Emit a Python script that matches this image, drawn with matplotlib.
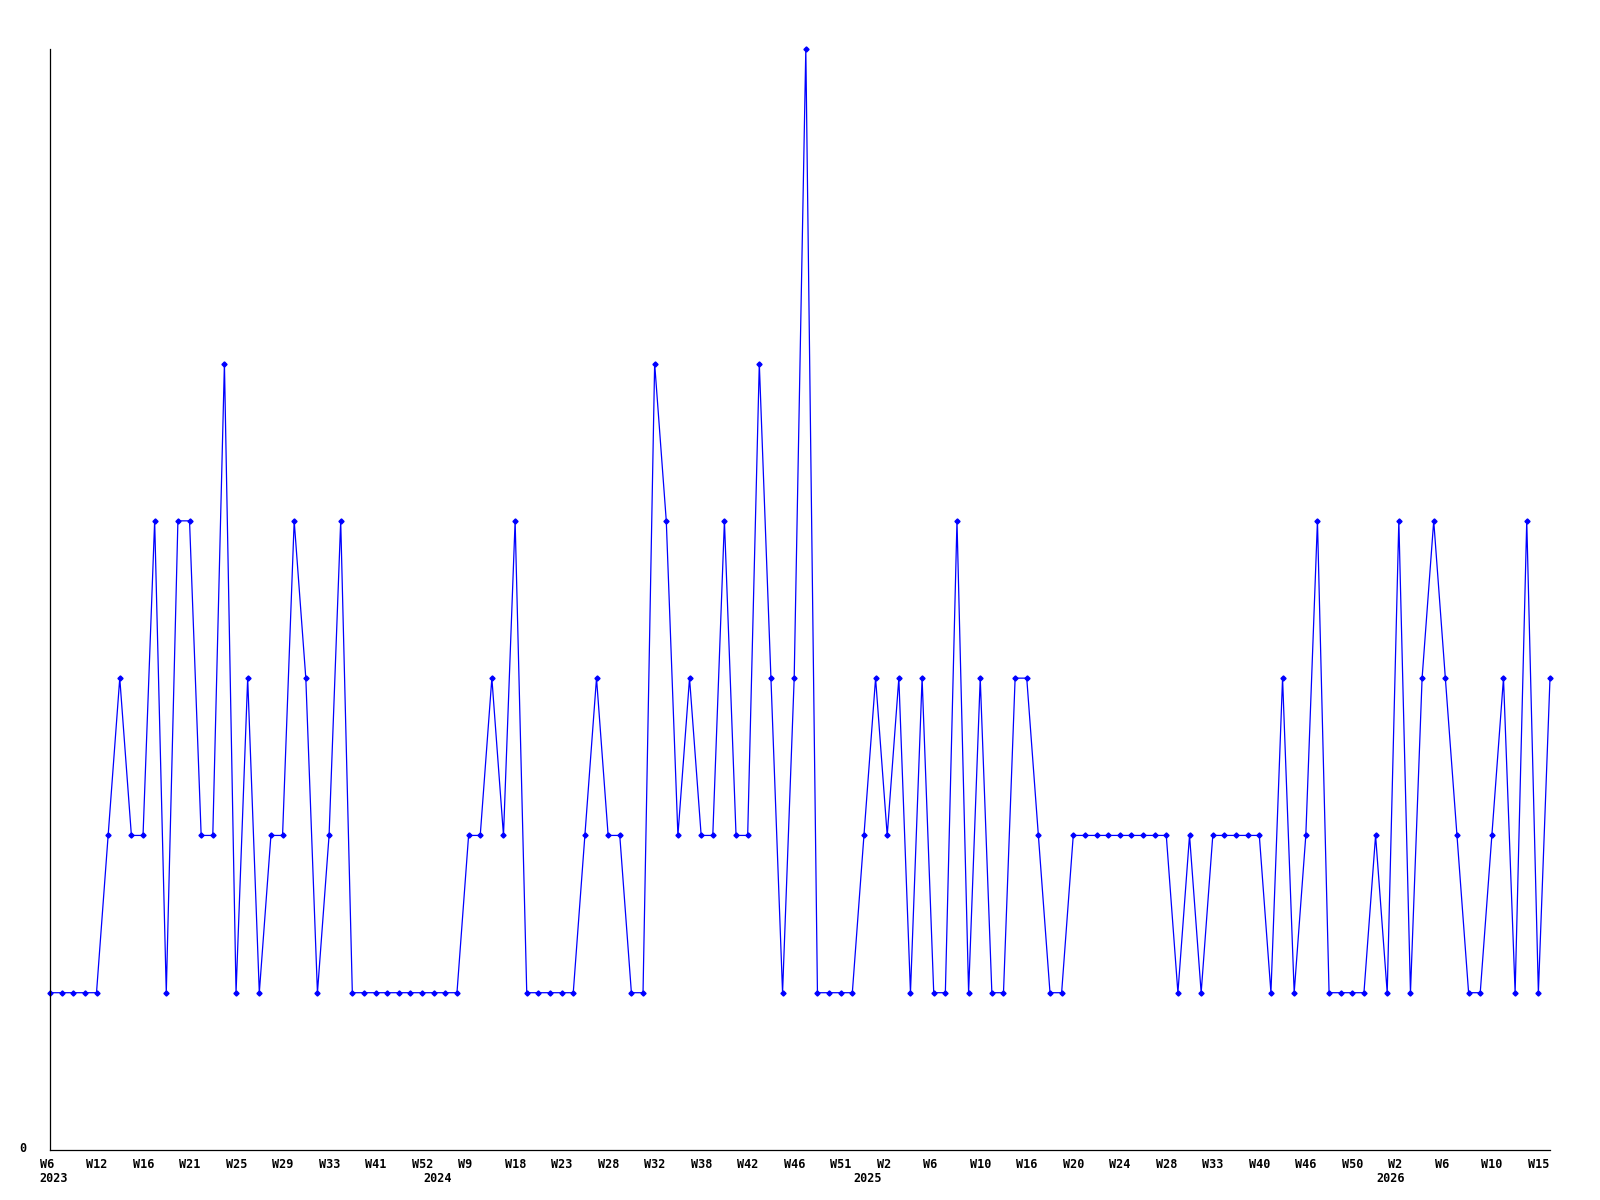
import matplotlib
matplotlib.use("Agg")
import matplotlib.pyplot as plt

values = [1, 1, 1, 1, 1, 2, 3, 2, 2, 4,
          1, 4, 4, 2, 2, 5, 1, 3, 1, 2,
          2, 4, 3, 1, 2, 4, 1, 1, 1, 1,
          1, 1, 1, 1, 1, 1, 2, 2, 3, 2,
          4, 1, 1, 1, 1, 1, 2, 3, 2, 2,
          1, 1, 5, 4, 2, 3, 2, 2, 4, 2,
          2, 5, 3, 1, 3, 7, 1, 1, 1, 1,
          2, 3, 2, 3, 1, 3, 1, 1, 4, 1,
          3, 1, 1, 3, 3, 2, 1, 1, 2, 2,
          2, 2, 2, 2, 2, 2, 2, 1, 2, 1,
          2, 2, 2, 2, 2, 1, 3, 1, 2, 4,
          1, 1, 1, 1, 2, 1, 4, 1, 3, 4,
          3, 2, 1, 1, 2, 3, 1, 4, 1, 3]

week_labels = ["W6", "W12", "W16", "W21", "W25", "W29", "W33", "W41", "W52",
               "W9", "W18", "W23", "W28", "W32", "W38", "W42", "W46", "W51",
               "W2", "W6", "W10", "W16", "W20", "W24", "W28", "W33", "W40",
               "W46", "W50", "W2", "W6", "W10", "W15"]
week_label_idx = list(range(0, 4 * len(week_labels), 4))

year_labels = ["2023", "2024", "2025", "2026"]
year_label_idx = [0, 33, 70, 115]

fig = plt.figure(figsize=(16, 12), dpi=100)
ax = fig.add_axes([50 / 1600, 1 - 1150 / 1200, 1500 / 1600, 1101 / 1200])

x = list(range(len(values)))
ax.plot(x, values, color="#0000FF", lw=0.9, marker="D", ms=2.6,
        markerfacecolor="#0000FF", markeredgecolor="#0000FF", clip_on=False)

ax.set_xlim(0, len(values) - 1)
ax.set_ylim(0, 7)
for s in ["top", "right"]:
    ax.spines[s].set_visible(False)
for s in ["left", "bottom"]:
    ax.spines[s].set_linewidth(0.9)
    ax.spines[s].set_color("black")
ax.set_xticks([])
ax.set_yticks([])

font = dict(family="DejaVu Sans Mono", fontweight="bold", fontsize=8.5)
px = 72 / 100.0

for i, lab in zip(week_label_idx, week_labels):
    ax.annotate(lab, xy=(i, 0), xycoords=("data", "axes fraction"),
                xytext=(-10.5 * px, -14 * px), textcoords="offset points",
                ha="left", va="center", annotation_clip=False, **font)

for i, lab in zip(year_label_idx, year_labels):
    ax.annotate(lab, xy=(i, 0), xycoords=("data", "axes fraction"),
                xytext=(-10.5 * px, -29 * px), textcoords="offset points",
                ha="left", va="center", annotation_clip=False, **font)

ax.annotate("0", xy=(0, 0), xycoords="axes fraction",
            xytext=(-27 * px, 1 * px), textcoords="offset points",
            ha="center", va="center", annotation_clip=False, **font)

fig.savefig("out.png", dpi=100)
